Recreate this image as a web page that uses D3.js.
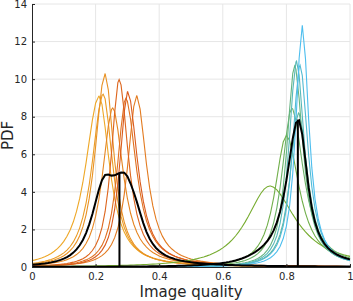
<!DOCTYPE html>
<html>
<head>
<meta charset="utf-8">
<script src="https://cdn.jsdelivr.net/npm/d3@7"></script>
<style>
  body { margin: 0; background: #fff; }
  text { font-family: "DejaVu Sans", sans-serif; }
</style>
</head>
<body>
<div id="chart"></div>
<script>
// low quality group: mode, height at mode, width left / right of the mode
const lowModes  = [0.211, 0.224, 0.230, 0.254, 0.329, 0.295, 0.274, 0.301];
const lowPeaks  = [9.1, 9.2, 10.3, 8.47, 9.11, 8.97, 9.98, 9.33];
const lowLeft   = [0.048, 0.040, 0.036, 0.036, 0.032, 0.030, 0.028, 0.028];
const lowRight  = [0.040, 0.036, 0.033, 0.040, 0.038, 0.040, 0.035, 0.038];

// high quality group
const highModes = [0.748, 0.800, 0.817, 0.826, 0.838, 0.832, 0.843, 0.850];
const highPeaks = [4.31, 7.0, 8.45, 10.7, 8.2, 10.96, 10.74, 12.87];
const highLeft  = [0.082, 0.040, 0.035, 0.028, 0.030, 0.027, 0.027, 0.023];
const highRight = [0.098, 0.050, 0.045, 0.032, 0.035, 0.030, 0.030, 0.025];

// means shown as vertical lines
const meanMarks = [0.275, 0.836];

const xTicks = [0, 0.2, 0.4, 0.6, 0.8, 1];
const yTicks = [0, 2, 4, 6, 8, 10, 12, 14];

const width = 353, height = 301;
const margin = {top: 4, right: 3, bottom: 34, left: 32};

const svg = d3.select('#chart').append('svg')
    .attr('width', width)
    .attr('height', height);

const x = d3.scaleLinear().domain([0, 1]).range([margin.left, width - margin.right]);
const y = d3.scaleLinear().domain([0, 14]).range([height - margin.bottom, margin.top]);

// skewed t shape: lighter tail below the mode, cauchy tail above it
function pdf(v, m, p, wl, wr) {
    const d = v - m;
    if (d < 0) {
        const z = d / wl;
        return p * Math.pow(1 + z * z / 1.5, -1.25);
    }
    const z = d / wr;
    return p / (1 + z * z);
}

const grid = d3.range(0, 101).map(i => i / 100);

function makeGroup(modes, peaks, wl, wr) {
    return modes.map((m, i) => {
        const xs = grid.concat([m]).sort((a, b) => a - b);
        return xs.map(v => [v, pdf(v, m, peaks[i], wl[i], wr[i])]);
    });
}

function groupMean(modes, peaks, wl, wr, v) {
    return d3.mean(modes, (m, i) => pdf(v, m, peaks[i], wl[i], wr[i]));
}

const lowCurves = makeGroup(lowModes, lowPeaks, lowLeft, lowRight);
const highCurves = makeGroup(highModes, highPeaks, highLeft, highRight);

const lowMean = grid.map(v => [v, groupMean(lowModes, lowPeaks, lowLeft, lowRight, v)]);
const highMean = grid.map(v => [v, groupMean(highModes, highPeaks, highLeft, highRight, v)]);

// grid lines
svg.append('g')
    .selectAll('line')
    .data(xTicks.slice(1))
    .enter()
    .append('line')
    .attr('x1', d => x(d)).attr('x2', d => x(d))
    .attr('y1', y(0)).attr('y2', y(14))
    .attr('stroke', '#e6e6e6');

svg.append('g')
    .selectAll('line')
    .data(yTicks.slice(1))
    .enter()
    .append('line')
    .attr('x1', x(0)).attr('x2', x(1))
    .attr('y1', d => y(d)).attr('y2', d => y(d))
    .attr('stroke', '#e6e6e6');

const line = d3.line()
    .x(d => x(d[0]))
    .y(d => y(d[1]));

const lowColor = d3.scaleLinear().domain([0, lowCurves.length - 1])
    .range(['#eea726', '#da5a1c']).interpolate(d3.interpolateRgb);
const highColor = d3.scaleLinear().domain([0, highCurves.length - 1])
    .range(['#77ac30', '#4dbeee']).interpolate(d3.interpolateRgb);

svg.append('g')
    .selectAll('path')
    .data(lowCurves)
    .enter()
    .append('path')
    .attr('d', line)
    .attr('fill', 'none')
    .attr('stroke', (d, i) => lowColor(i))
    .attr('stroke-width', 1.1);

svg.append('g')
    .selectAll('path')
    .data(highCurves)
    .enter()
    .append('path')
    .attr('d', line)
    .attr('fill', 'none')
    .attr('stroke', (d, i) => highColor(i))
    .attr('stroke-width', 1.1);

// mean curves
svg.append('g')
    .selectAll('path')
    .data([lowMean, highMean])
    .enter()
    .append('path')
    .attr('d', line)
    .attr('fill', 'none')
    .attr('stroke', '#000')
    .attr('stroke-width', 2);

const markTops = [
    groupMean(lowModes, lowPeaks, lowLeft, lowRight, meanMarks[0]),
    groupMean(highModes, highPeaks, highLeft, highRight, meanMarks[1])
];

svg.append('g')
    .selectAll('line')
    .data(meanMarks)
    .enter()
    .append('line')
    .attr('x1', d => x(d)).attr('x2', d => x(d))
    .attr('y1', y(0))
    .attr('y2', (d, i) => y(markTops[i]))
    .attr('stroke', '#000')
    .attr('stroke-width', 2);

// axes
const xAxis = d3.axisBottom(x)
    .tickValues(xTicks)
    .tickFormat(d3.format('~g'))
    .tickSize(-3)
    .tickPadding(6);

const yAxis = d3.axisLeft(y)
    .tickValues(yTicks)
    .tickSize(-3)
    .tickPadding(5);

const gx = svg.append('g')
    .attr('transform', `translate(0,${y(0)})`)
    .call(xAxis);

const gy = svg.append('g')
    .attr('transform', `translate(${x(0)},0)`)
    .call(yAxis);

[gx, gy].forEach(g => {
    g.select('.domain').attr('stroke', '#262626');
    g.selectAll('.tick line').attr('stroke', '#262626');
    g.selectAll('.tick text')
        .attr('fill', '#262626')
        .style('font-size', '10px')
        .style('font-family', '"DejaVu Sans", sans-serif');
});

svg.append('text')
    .attr('x', (x(0) + x(1)) / 2)
    .attr('y', 297)
    .attr('text-anchor', 'middle')
    .attr('fill', '#262626')
    .style('font-size', '15px')
    .text('Image quality');

svg.append('text')
    .attr('transform', `translate(13,${(y(0) + y(14)) / 2}) rotate(-90)`)
    .attr('text-anchor', 'middle')
    .attr('fill', '#262626')
    .style('font-size', '15px')
    .text('PDF');
</script>
</body>
</html>
